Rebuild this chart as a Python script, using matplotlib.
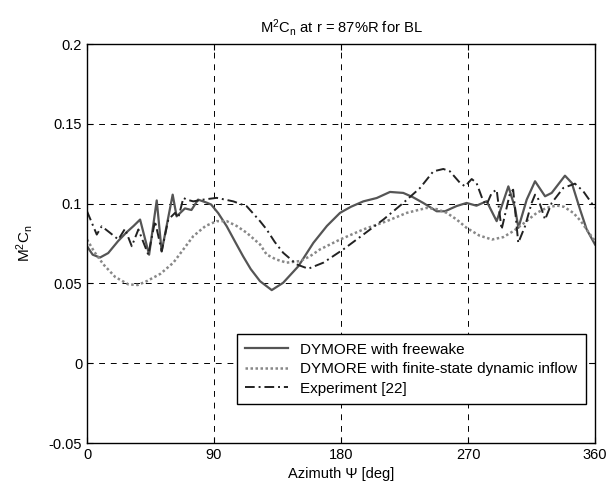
import numpy as np
import matplotlib
matplotlib.use('Agg')
import matplotlib.pyplot as plt

plt.rcParams['font.family'] = ['Liberation Sans', 'DejaVu Sans']
plt.rcParams['mathtext.fontset'] = 'custom'
plt.rcParams['mathtext.rm'] = 'Liberation Sans'
plt.rcParams['mathtext.it'] = 'Liberation Sans'

# DYMORE with freewake
fw_psi = [0, 4, 9.2, 15, 22, 28, 33, 37.6, 44, 49.4, 52.9, 60.7, 63.5, 69.4, 74, 78.7,
          84.8, 88, 93, 99, 105, 110.6, 116, 122.6, 130.9, 139, 149.8, 160.4, 170,
          179.3, 187, 195.8, 205.3, 214.7, 224.1, 231, 238.3, 247.8, 253.7, 262,
          269, 276, 283.2, 290.3, 298.6, 303.3, 305.7, 311.6, 317.5, 324.6, 329.3,
          338.7, 343.5, 349.4, 354.1, 360]
fw_val = [0.0733, 0.068, 0.0662, 0.069, 0.0765, 0.082, 0.086, 0.090, 0.068, 0.102,
          0.070, 0.1056, 0.092, 0.097, 0.096, 0.1025, 0.1006, 0.0994, 0.094, 0.0858,
          0.076, 0.067, 0.059, 0.0514, 0.0458, 0.0504, 0.0608, 0.0754, 0.086,
          0.0942, 0.098, 0.1014, 0.1035, 0.1073, 0.1067, 0.104, 0.1004, 0.0952,
          0.0952, 0.0985, 0.1004, 0.0987, 0.1015, 0.089, 0.1108, 0.0973, 0.0848,
          0.1025, 0.114, 0.1046, 0.1067, 0.1175, 0.113, 0.0963, 0.0838, 0.0744]

# DYMORE with finite-state dynamic inflow
fs_psi = [0, 5, 11.6, 20, 29.3, 36, 42.3, 52, 61.2, 68, 75.3, 84, 91.9, 99, 106,
          113.2, 122.6, 127.3, 134, 141.5, 151, 158, 165.1, 179.3, 195.8, 212.4,
          226.6, 240.7, 248, 254.9, 262, 269, 278, 287, 295, 302, 310, 318.7, 326,
          332.9, 338, 344.6, 350, 354, 360]
fs_val = [0.0775, 0.070, 0.0619, 0.054, 0.0494, 0.049, 0.0514, 0.056, 0.063, 0.071,
          0.0796, 0.086, 0.089, 0.089, 0.086, 0.0817, 0.0744, 0.0681, 0.065, 0.063,
          0.064, 0.067, 0.0713, 0.0775, 0.0838, 0.089, 0.0942, 0.0973, 0.0965,
          0.0942, 0.090, 0.0848, 0.080, 0.0775, 0.079, 0.0827, 0.088, 0.0942,
          0.0975, 0.0988, 0.098, 0.0942, 0.089, 0.0838, 0.0765]

# Experiment [22]
ex_psi = [0, 6.9, 10.4, 16.3, 22.2, 26.9, 31.7, 36.4, 43.4, 48.2, 52.9, 57.6, 62.4,
          64.7, 68.3, 70.6, 75.3, 82.4, 91.9, 103.7, 113.2, 122.6, 127.3, 133, 139,
          148.6, 156.8, 167.5, 181.6, 195.8, 210, 224.1, 236, 245.4, 252.5, 257.2,
          264.3, 267.9, 272.6, 276, 280.8, 283.2, 286.8, 290.3, 293.8, 299.8, 302,
          305.6, 310.4, 315.1, 317.5, 319.5, 324.6, 329.3, 337.5, 345.8, 351.7, 360]
ex_val = [0.0952, 0.0806, 0.0858, 0.0817, 0.0775, 0.0842, 0.0733, 0.0838, 0.068,
          0.089, 0.0702, 0.090, 0.0942, 0.0911, 0.1036, 0.1025, 0.1014, 0.1025,
          0.1036, 0.1014, 0.0983, 0.089, 0.0838, 0.076, 0.0692, 0.0619, 0.0592,
          0.063, 0.0713, 0.0806, 0.090, 0.1004, 0.1098, 0.1202, 0.1217, 0.1202,
          0.113, 0.1108, 0.1154, 0.113, 0.1015, 0.0994, 0.1067, 0.1087, 0.0838,
          0.1067, 0.1087, 0.0754, 0.0858, 0.1004, 0.1056, 0.1036, 0.090, 0.1004,
          0.1098, 0.1125, 0.1077, 0.0973]

x_ticks = [0, 90, 180, 270, 360]
y_ticks = [-0.05, 0, 0.05, 0.1, 0.15, 0.2]
y_tick_labels = ['-0.05', '0', '0.05', '0.1', '0.15', '0.2']

fig = plt.figure(figsize=(6.15, 4.9), dpi=100)
ax = fig.add_axes([0.1415, 0.0959, 0.826, 0.8143])

ax.plot(fw_psi, fw_val, color='#555555', lw=1.6, ls='-', label='DYMORE with freewake')
ax.plot(fs_psi, fs_val, color='#888888', lw=1.8, ls=(0, (1, 1)),
        label='DYMORE with finite-state dynamic inflow')
ax.plot(ex_psi, ex_val, color='#222222', lw=1.4, ls=(0, (5, 2, 1, 2)),
        label='Experiment [22]')

ax.set_xlim(0, 360)
ax.set_ylim(-0.05, 0.2)
ax.set_xticks(x_ticks)
ax.set_yticks(y_ticks)
ax.set_yticklabels(y_tick_labels)
ax.tick_params(direction='in', top=True, right=True, labelsize=10.5, length=4, width=0.8)
ax.grid(True, color='black', ls=(0, (6, 6)), lw=0.7)
for s in ax.spines.values():
    s.set_linewidth(1.0)

ax.set_title(r'M$^2$C$_n$ at r = 87%R for BL', fontsize=10.6, pad=8)
ax.set_xlabel('Azimuth Ψ [deg]', fontsize=10.5, labelpad=4)
ax.set_ylabel(r'M$^2$C$_n$', fontsize=11, labelpad=10)

leg = ax.legend(loc='lower right', bbox_to_anchor=(0.982, 0.098), borderaxespad=0,
                fontsize=11, fancybox=False, framealpha=1, edgecolor='black',
                handlelength=2.8, labelspacing=0.35, borderpad=0.55)
leg.get_frame().set_linewidth(1.0)

fig.savefig('out.png', dpi=100)
